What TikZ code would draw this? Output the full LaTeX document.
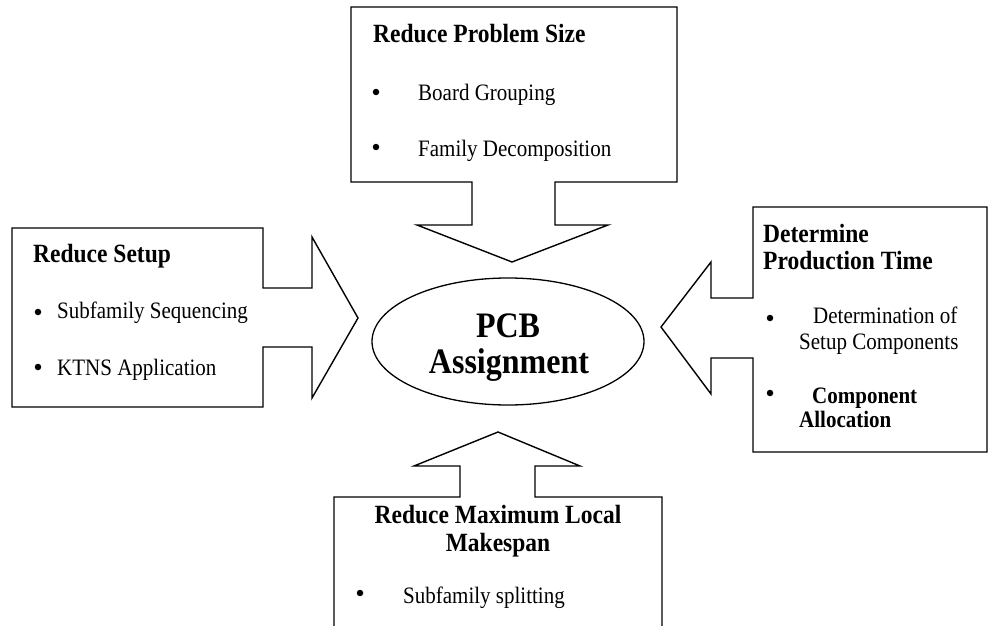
\documentclass[tikz,border=0pt]{standalone}
\usepackage{fontspec}
\setmainfont{Liberation Serif}
\usetikzlibrary{shapes.geometric}
\begin{document}
\begin{tikzpicture}[x=1pt,y=-1pt,
  callout/.style={draw=black,line width=1.4pt,line join=miter,fill=white},
  txt/.style={inner sep=0pt,yscale=1.12,transform shape},
  hdr/.style={txt,anchor=base west,font=\fontsize{23.5}{27}\selectfont\bfseries},
  item/.style={txt,anchor=base west,font=\fontsize{21}{25}\selectfont},
  bitem/.style={txt,anchor=base west,font=\fontsize{21}{25}\selectfont\bfseries},
  big/.style={txt,anchor=base,font=\fontsize{32}{38}\selectfont\bfseries},
  dot/.style={circle,fill=black,inner sep=0pt,minimum size=6.5pt}]
\useasboundingbox (0,0) rectangle (989,626);
\clip (0,0) rectangle (989,626);

% callout shapes: box with an arrow pointing at the centre
\draw[callout] (351,7) -- (677,7) -- (677,182) -- (555,182) -- (555,225) -- (608,225)
  -- (512,262) -- (417,225) -- (472,225) -- (472,182) -- (351,182) -- cycle;
\draw[callout] (12,228) -- (263,228) -- (263,288) -- (312,288) -- (312,237) -- (358,318)
  -- (312,398) -- (312,347) -- (263,347) -- (263,407) -- (12,407) -- cycle;
\draw[callout] (753,207) -- (987,207) -- (987,452) -- (753,452) -- (753,358) -- (711,358)
  -- (711,394) -- (661,327) -- (711,262) -- (711,298) -- (753,298) -- cycle;
\draw[callout] (334,497) -- (460,497) -- (460,466) -- (414,466) -- (498,432) -- (580,466)
  -- (535,466) -- (535,497) -- (662,497) -- (662,660) -- (334,660) -- cycle;

% central goal
\node[draw,line width=1.3pt,ellipse,minimum width=272,minimum height=127,inner sep=0pt]
  (goal) at (508,341.5) {};
\node[big] (goalA) at (508,337) {PCB};
\node[big] (goalB) at (509,373) {Assignment};

% top box
\node[hdr] (tTitle) at (373,43) {Reduce Problem Size};
\node[dot] (tB1) at (376,92) {};
\node[item] (t1) at (418,100) {Board Grouping};
\node[dot] (tB2) at (376,147) {};
\node[item] (t2) at (418,157) {Family Decomposition};

% left box
\node[hdr] (lTitle) at (33,262) {Reduce Setup};
\node[dot] (lB1) at (38,312) {};
\node[item] (l1) at (57,318) {Subfamily Sequencing};
\node[dot] (lB2) at (38,367) {};
\node[item] (l2) at (57,375) {KTNS Application};

% right box
\node[hdr] (rTitle1) at (763,242) {Determine};
\node[hdr] (rTitle2) at (763,269) {Production Time};
\node[dot] (rB1) at (770,318) {};
\node[item] (r1a) at (813,323) {Determination of};
\node[item] (r1b) at (799,349) {Setup Components};
\node[dot] (rB2) at (770,393) {};
\node[bitem] (r2a) at (812,403) {Component};
\node[bitem] (r2b) at (799,427) {Allocation};

% bottom box
\node[hdr,anchor=base] (bTitle1) at (498,523) {Reduce Maximum Local};
\node[hdr,anchor=base] (bTitle2) at (498,551) {Makespan};
\node[dot] (bB1) at (360,593) {};
\node[item] (b1) at (403,603) {Subfamily splitting};
\end{tikzpicture}
\end{document}
